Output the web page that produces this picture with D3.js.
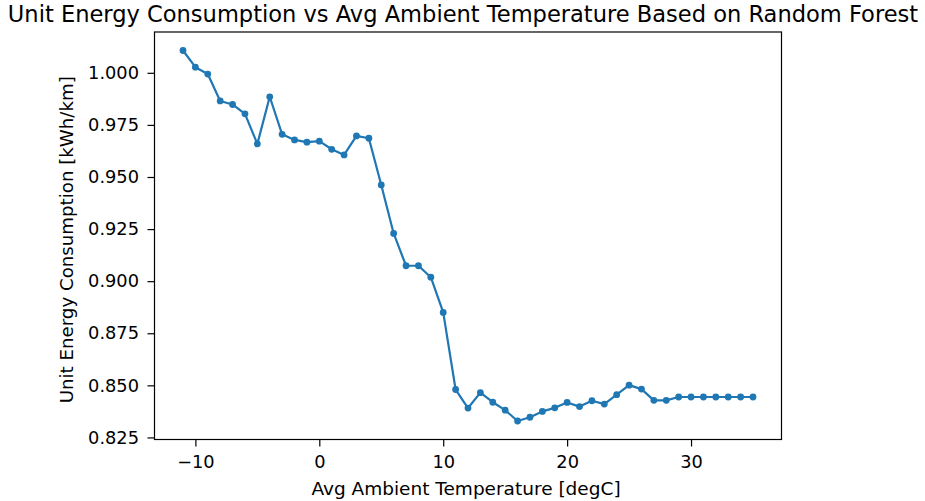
<!DOCTYPE html>
<html><head><meta charset="utf-8">
<script src="https://cdn.jsdelivr.net/npm/d3@7"></script>
<style>body{margin:0;background:#fff;} text{font-family:"DejaVu Sans",sans-serif;fill:#000;}</style>
</head><body>
<svg id="c" width="925" height="501"></svg>
<script>
const temps = [-11,-10,-9,-8,-7,-6,-5,-4,-3,-2,-1,0,1,2,3,4,5,6,7,8,9,10,11,12,13,14,15,16,17,18,19,20,21,22,23,24,25,26,27,28,29,30,31,32,33,34,35];
const consumption = [1.0107,1.0027,0.9994,0.9865,0.9848,0.9803,0.9659,0.9885,0.9705,0.9678,0.9667,0.9672,0.9633,0.9606,0.9697,0.9686,0.9462,0.9229,0.9074,0.9074,0.9019,0.8850,0.8480,0.8391,0.8465,0.8419,0.8381,0.8329,0.8347,0.8375,0.8392,0.8418,0.8398,0.8426,0.8410,0.8455,0.8501,0.8482,0.8428,0.8428,0.8444,0.8444,0.8444,0.8444,0.8444,0.8444,0.8444];
const xTicks = [-10,0,10,20,30];
const yTicks = [0.825,0.850,0.875,0.900,0.925,0.950,0.975,1.000];
const title = "Unit Energy Consumption vs Avg Ambient Temperature Based on Random Forest";
const xLabel = "Avg Ambient Temperature [degC]";
const yLabel = "Unit Energy Consumption [kWh/km]";

const L = 154.5, R = 781.5, T = 32, B = 439.5;
const svg = d3.select("#c");
const xmin = d3.min(temps), xmax = d3.max(temps);
const ymin = d3.min(consumption), ymax = d3.max(consumption);
const xm = (xmax - xmin) * 0.05, ym = (ymax - ymin) * 0.05;
const x = d3.scaleLinear().domain([xmin - xm, xmax + xm]).range([L, R]);
const y = d3.scaleLinear().domain([ymin - ym, ymax + ym]).range([B, T]);

const color = "#1f77b4";
const data = temps.map((t, i) => [t, consumption[i]]);
svg.append("path").datum(data)
  .attr("fill", "none").attr("stroke", color).attr("stroke-width", 2.2)
  .attr("stroke-linejoin", "round").attr("stroke-linecap", "round")
  .attr("d", d3.line().x(d => x(d[0])).y(d => y(d[1])));
svg.append("g").selectAll("circle").data(data).join("circle")
  .attr("cx", d => x(d[0])).attr("cy", d => y(d[1])).attr("r", 3.4).attr("fill", color);

const xa = svg.append("g").attr("transform", `translate(0,${B})`)
  .call(d3.axisBottom(x).tickValues(xTicks).tickSize(7).tickPadding(8.5).tickFormat(d => d < 0 ? "\u2212" + Math.abs(d) : d));
const ya = svg.append("g").attr("transform", `translate(${L},0)`)
  .call(d3.axisLeft(y).tickValues(yTicks).tickSize(7).tickPadding(8.5).tickFormat(d3.format(".3f")));
[xa, ya].forEach(a => {
  a.select(".domain").remove();
  a.selectAll("line").attr("stroke", "#000").attr("stroke-width", 1.2);
  a.selectAll("text").attr("font-size", "17.8px").attr("font-family", "DejaVu Sans").attr("fill", "#222");
});
svg.append("rect").attr("x", L).attr("y", T).attr("width", R - L).attr("height", B - T)
  .attr("fill", "none").attr("stroke", "#000").attr("stroke-width", 1.2);

svg.append("text").attr("x", (L + R) / 2 - 5).attr("y", 22).attr("text-anchor", "middle")
  .attr("font-size", "22.55px").attr("fill", "#222").text(title);
svg.append("text").attr("x", (L + R) / 2 - 2).attr("y", 495).attr("text-anchor", "middle")
  .attr("font-size", "18.5px").attr("fill", "#222").text(xLabel);
svg.append("text").attr("transform", `translate(73,${(T + B) / 2 + 4}) rotate(-90)`).attr("text-anchor", "middle")
  .attr("font-size", "18.2px").attr("fill", "#222").text(yLabel);
</script>
</body></html>
